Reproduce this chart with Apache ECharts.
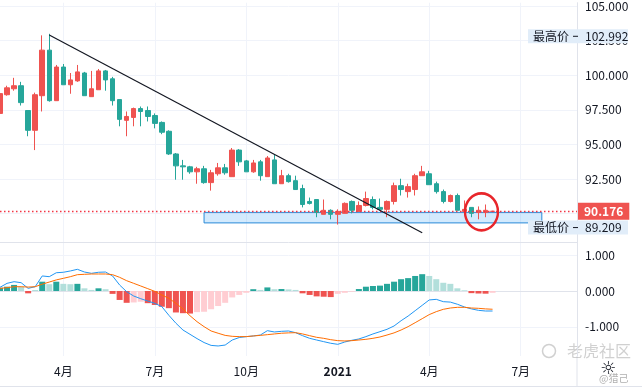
<!DOCTYPE html>
<html><head><meta charset="utf-8">
<script src="https://cdn.jsdelivr.net/npm/echarts@6/dist/echarts.min.js"></script>
<style>html,body{margin:0;padding:0;background:#fff;}#c{width:642px;height:389px;}</style>
</head><body><div id="c"></div>
<script>
// ---- data ----
const categories = [
 '2020-02-03','2020-02-10','2020-02-17','2020-02-24','2020-03-02','2020-03-09','2020-03-16','2020-03-23','2020-03-30',
 '2020-04-06','2020-04-13','2020-04-20','2020-04-27','2020-05-04','2020-05-11','2020-05-18','2020-05-25',
 '2020-06-01','2020-06-08','2020-06-15','2020-06-22','2020-06-29','2020-07-06','2020-07-13','2020-07-20','2020-07-27',
 '2020-08-03','2020-08-10','2020-08-17','2020-08-24','2020-08-31','2020-09-07','2020-09-14','2020-09-21','2020-09-28',
 '2020-10-05','2020-10-12','2020-10-19','2020-10-26','2020-11-02','2020-11-09','2020-11-16','2020-11-23','2020-11-30',
 '2020-12-07','2020-12-14','2020-12-21','2020-12-28',
 '2021-01-04','2021-01-11','2021-01-18','2021-01-25','2021-02-01','2021-02-08','2021-02-15','2021-02-22',
 '2021-03-01','2021-03-08','2021-03-15','2021-03-22','2021-03-29','2021-04-05','2021-04-12','2021-04-19','2021-04-26',
 '2021-05-03','2021-05-10','2021-05-17','2021-05-24','2021-05-31','2021-06-07','2021-06-14','2021-06-21','2021-06-28',
 '2021-07-05','2021-07-12','2021-07-19','2021-07-26','2021-08-02','2021-08-09','2021-08-16','2021-08-23','2021-08-30'
];
const candleOpen = [97.24,98.59,99.02,99.24,97.45,96.02,98.52,101.81,98.16,100.59,
 99.31,99.59,100.16,98.45,98.95,100.31,99.74,98.24,96.74,96.95,
 97.59,97.45,97.09,96.59,95.95,94.31,93.45,93.38,93.02,93.24,
 92.24,92.88,93.31,92.67,94.59,93.81,93.02,93.74,92.67,93.88,
 92.16,92.74,92.38,91.81,90.88,91.02,89.95,90.24,89.95,90.02,
 90.88,90.16,90.59,91.02,90.45,90.31,90.88,92.02,91.59,91.74,
 92.74,92.88,92.16,91.59,90.88,91.31,90.16,90.45,90.09,90.09,90.16];
const candleClose = [98.67,99.09,99.24,98.02,96.02,98.59,101.81,98.16,100.59,99.31,
 99.66,100.24,98.52,99.02,100.31,99.66,98.16,96.81,97.02,97.59,
 97.38,97.02,96.52,95.88,94.31,93.45,93.38,93.02,93.24,92.24,
 92.95,93.31,92.95,94.59,93.74,93.02,93.66,92.74,94.02,92.16,
 92.74,92.31,91.74,90.66,90.74,90.09,90.24,89.95,90.16,90.74,
 90.24,90.59,91.09,90.45,90.31,90.88,92.02,91.74,91.95,92.74,
 93.02,92.09,91.59,90.88,91.31,90.24,90.31,90.02,90.24,90.24,90.176];
const candleLow = [97.09,98.52,98.88,97.81,95.59,94.59,97.38,98.09,98.16,99.31,
 98.66,99.52,98.52,98.45,98.95,98.88,97.81,96.31,95.59,96.31,
 96.31,96.66,96.16,95.74,94.24,92.45,92.45,92.88,92.16,92.16,
 91.66,92.74,92.81,92.67,93.45,93.02,92.95,92.38,92.67,92.16,
 92.16,92.24,91.74,90.45,90.66,89.74,89.95,89.59,89.21,90.02,
 90.02,90.16,90.52,90.31,90.24,89.74,90.66,91.31,91.16,91.31,
 92.74,92.09,91.45,90.74,90.81,90.24,90.02,89.74,89.59,89.74,90.16];
const candleHigh = [98.81,99.24,99.81,99.52,97.45,98.74,102.88,102.99,100.74,100.81,
 100.16,100.74,100.24,100.31,100.45,100.38,99.88,98.24,97.38,97.66,
 97.74,97.74,97.24,96.66,96.02,94.38,93.88,93.45,93.38,93.45,
 93.16,93.66,93.59,94.74,94.66,93.88,93.88,93.88,94.16,94.24,
 93.16,92.88,92.74,92.09,91.16,91.02,91.02,90.31,90.31,90.81,
 90.95,90.88,91.59,91.24,91.09,90.95,92.24,92.52,92.16,92.88,
 93.45,93.09,92.31,91.74,91.38,91.45,90.95,90.45,90.52,90.66,90.18];
const macdHist = [0.09,0.12,0.17,0.12,-0.065,0.01,0.26,0.19,0.26,0.2,
 0.19,0.2,0.075,0.03,0.075,0.05,-0.08,-0.25,-0.33,-0.32,
 -0.30,-0.34,-0.39,-0.44,-0.48,-0.6,-0.62,-0.63,-0.59,-0.58,
 -0.51,-0.42,-0.33,-0.18,-0.11,-0.05,0.05,0.03,0.10,0.05,
 0.055,0.045,0.03,-0.065,-0.11,-0.15,-0.16,-0.17,-0.08,-0.05,
 -0.02,0.055,0.12,0.14,0.15,0.2,0.26,0.33,0.36,0.42,
 0.47,0.42,0.33,0.23,0.2,0.075,0.02,-0.06,-0.07,-0.075,-0.05];
const macdLine = [0.103,0.214,0.26,0.232,0.074,0.12,0.42,0.40,0.51,0.523,
 0.56,0.606,0.53,0.494,0.523,0.53,0.42,0.168,-0.02,-0.14,
 -0.215,-0.28,-0.344,-0.437,-0.68,-0.9,-1.09,-1.21,-1.33,-1.44,
 -1.52,-1.536,-1.51,-1.37,-1.30,-1.275,-1.256,-1.23,-1.108,-1.145,
 -1.127,-1.117,-1.164,-1.248,-1.322,-1.369,-1.415,-1.46,-1.49,-1.425,
 -1.378,-1.34,-1.275,-1.2,-1.136,-1.07,-0.977,-0.83,-0.7,-0.55,
 -0.4,-0.25,-0.233,-0.298,-0.31,-0.37,-0.446,-0.5,-0.54,-0.559,-0.559];
const signalLine = [0.074,0.093,0.12,0.12,0.11,0.12,0.19,0.25,0.31,0.354,
 0.4,0.456,0.466,0.475,0.475,0.475,0.456,0.382,0.288,0.214,
 0.14,0.065,-0.01,-0.112,-0.205,-0.344,-0.5,-0.69,-0.857,-0.996,
 -1.117,-1.18,-1.24,-1.266,-1.275,-1.275,-1.256,-1.24,-1.22,-1.2,
 -1.18,-1.17,-1.164,-1.2,-1.248,-1.294,-1.322,-1.36,-1.387,-1.396,
 -1.387,-1.369,-1.35,-1.322,-1.285,-1.23,-1.17,-1.09,-0.996,-0.885,
 -0.773,-0.66,-0.577,-0.512,-0.475,-0.456,-0.456,-0.475,-0.484,-0.5,-0.51];
const tickDates = ['2020-04-06','2020-07-06','2020-10-05','2021-01-04','2021-04-05','2021-07-05'];
const tickLabels = ['4月','7月','10月','2021','4月','7月'];
const priceTicks = [90, 92.5, 95, 97.5, 100, 102.5, 105];
const macdTicks = [-1, 0, 1];
const lastPrice = 90.176, highPrice = 102.992, lowPrice = 89.209;
const trendStart = ['2020-03-23', 102.9], trendEnd = ['2021-03-29', 88.62];
const boxStart = ['2020-08-24', 90.09], boxEnd = ['2021-07-26', 89.33];
const circleAt = ['2021-05-24', 90.13];

// ---- chart ----
const UP = '#ef5350', DOWN = '#26a69a';
const candles = candleOpen.map((o, i) => [o, candleClose[i], candleLow[i], candleHigh[i]]);
const isTick = (i, v) => tickDates.indexOf(v) >= 0;
const histColor = (p) => {
  const i = p.dataIndex, v = macdHist[i], prev = i > 0 ? macdHist[i - 1] : -Infinity;
  if (v >= 0) return v > prev ? '#26a69a' : '#b2dfdb';
  return v < prev ? '#ef5350' : '#ffcdd2';
};
const chart = echarts.init(document.getElementById('c'));
const FONT = "'Noto Sans CJK SC', sans-serif";
chart.setOption({
  animation: false,
  textStyle: { fontFamily: FONT },
  grid: [
    { left: -1, right: 65, top: 0, height: 242 },
    { left: -1, right: 65, top: 242, height: 114 }
  ],
  xAxis: [
    { type: 'category', gridIndex: 0, data: categories, boundaryGap: false,
      axisLine: { show: true, lineStyle: { color: '#e0e3eb' } }, axisTick: { show: false },
      axisLabel: { show: false },
      splitLine: { show: true, interval: isTick, lineStyle: { color: '#f0f3fa' } } },
    { type: 'category', gridIndex: 1, data: categories, boundaryGap: false,
      axisLine: { show: true, lineStyle: { color: '#e0e3eb' } }, axisTick: { show: false },
      axisLabel: { interval: isTick, color: '#131722', fontSize: 12, margin: 9,
        formatter: v => { const t = tickLabels[tickDates.indexOf(v)]; return /^\d{4}$/.test(t) ? '{b|' + t + '}' : t; },
        rich: { b: { fontWeight: 'bold', fontSize: 12, color: '#131722', fontFamily: FONT } } },
      splitLine: { show: true, interval: isTick, lineStyle: { color: '#f0f3fa' } } }
  ],
  yAxis: [
    { type: 'value', gridIndex: 0, position: 'right', min: 87.95, max: 105.236,
      axisLine: { show: true, lineStyle: { color: '#e0e3eb' } },
      axisTick: { show: false, customValues: priceTicks },
      axisLabel: { customValues: priceTicks, formatter: v => v.toFixed(3), color: '#131722', fontSize: 12, margin: 8 },
      splitLine: { show: true, lineStyle: { color: '#f0f3fa' } } },
    { type: 'value', gridIndex: 1, position: 'right', min: -1.816, max: 1.369,
      axisLine: { show: true, lineStyle: { color: '#e0e3eb' } },
      axisTick: { show: false, customValues: macdTicks },
      axisLabel: { customValues: macdTicks, formatter: v => v.toFixed(3), color: '#131722', fontSize: 12, margin: 8 },
      splitLine: { show: true, lineStyle: { color: '#f0f3fa' } } }
  ],
  series: [
    { type: 'candlestick', xAxisIndex: 0, yAxisIndex: 0, data: candles, barWidth: 5,
      itemStyle: { color: UP, color0: DOWN, borderColor: UP, borderColor0: DOWN, borderWidth: 1 },
      markLine: { silent: true, symbol: 'none', animation: false,
        lineStyle: { color: '#f23645', type: [1.5, 2.5], width: 1.4, opacity: 1 },
        data: [
          { yAxis: lastPrice, lineStyle: { color: '#f23645', type: [1.5, 2.5], width: 1.4 },
            label: { show: true, position: 'end', distance: 1, formatter: lastPrice.toFixed(3),
              color: '#fff', backgroundColor: UP, fontWeight: 'bold', fontSize: 12, padding: [3, 6, 2, 6], fontFamily: FONT } },
          [ { coord: trendStart, lineStyle: { color: '#131722', type: 'solid', width: 1.2 }, label: { show: false } },
            { coord: trendEnd } ]
        ] },
      markArea: { silent: true,
        data: [[ { coord: boxStart, itemStyle: { color: 'rgba(33,150,243,0.2)', borderColor: '#2a8ad8', borderWidth: 1 }, label: { show: false } },
                 { coord: boxEnd } ]] },
      markPoint: { silent: true,
        data: [ { coord: circleAt, symbol: 'circle', symbolSize: [33, 37], symbolOffset: [3, 0],
          itemStyle: { color: 'rgba(0,0,0,0)', borderColor: '#e8262b', borderWidth: 2.5 }, label: { show: false } } ] }
    },
    { type: 'bar', xAxisIndex: 1, yAxisIndex: 1, data: macdHist, barWidth: 6,
      itemStyle: { color: histColor } },
    { type: 'line', xAxisIndex: 1, yAxisIndex: 1, data: macdLine, showSymbol: false, symbol: 'none',
      lineStyle: { color: '#2196f3', width: 1 } },
    { type: 'line', xAxisIndex: 1, yAxisIndex: 1, data: signalLine, showSymbol: false, symbol: 'none',
      lineStyle: { color: '#ff6d00', width: 1 } }
  ]
});

const yH = chart.convertToPixel({ yAxisIndex: 0 }, highPrice) + 2.5;
const yL = chart.convertToPixel({ yAxisIndex: 0 }, lowPrice) + 3;
const tagFont = "12px " + FONT;
function tag(y, name, val) {
  return [
    { type: 'rect', z: 100, shape: { x: 528, y: y - 7, width: 100, height: 14 }, style: { fill: '#e1edf9' } },
    { type: 'text', z: 101, x: 533, y: y, style: { text: name, fill: '#131722', font: tagFont, verticalAlign: 'middle' } },
    { type: 'line', z: 101, shape: { x1: 573, y1: y, x2: 578, y2: y }, style: { stroke: '#131722', lineWidth: 1 } },
    { type: 'text', z: 101, x: 585, y: y, style: { text: val.toFixed(3), fill: '#131722', font: tagFont, verticalAlign: 'middle' } }
  ];
}
chart.setOption({
  graphic: [
    ...tag(yH, '最高价', highPrice),
    ...tag(yL, '最低价', lowPrice),
    { type: 'line', shape: { x1: 577, y1: 356, x2: 577, y2: 386 }, style: { stroke: '#e0e3eb', lineWidth: 1 } },
    { type: 'line', shape: { x1: 0, y1: 386.5, x2: 642, y2: 386.5 }, style: { stroke: '#e0e3eb', lineWidth: 1 } },
    { type: 'circle', shape: { cx: 549, cy: 351, r: 6.5 }, style: { fill: 'none', stroke: 'rgba(150,150,150,0.45)', lineWidth: 1.5 } },
    { type: 'text', x: 567, y: 351, style: { text: '老虎社区', fill: 'rgba(150,150,150,0.45)', font: "16px " + FONT, verticalAlign: 'middle' } },
    { type: 'text', x: 608, y: 369, style: { text: '☼', fill: '#131722', font: "18px 'DejaVu Sans'", align: 'center', verticalAlign: 'middle' } },
    { type: 'text', x: 599, y: 378, style: { text: '@猎己', fill: 'rgba(120,120,120,0.6)', font: "10px " + FONT, verticalAlign: 'middle' } }
  ]
});
</script></body></html>
